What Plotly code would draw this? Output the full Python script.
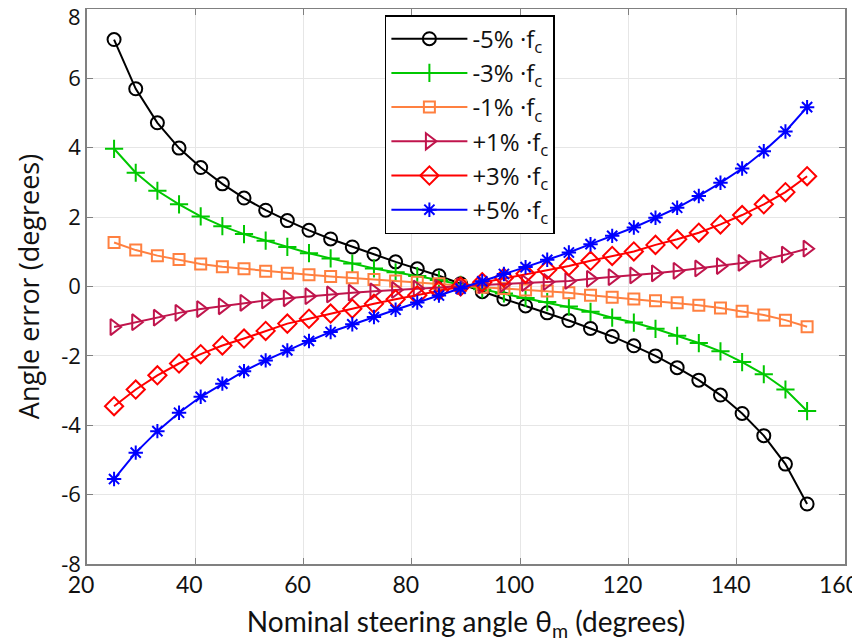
import plotly.graph_objects as go

# steering angle samples (degrees)
theta_m = [25, 29, 33, 37, 41, 45, 49, 53, 57, 61, 65, 69, 73,
           77, 81, 85, 89, 93, 97, 101, 105,
           109, 113, 117, 121, 125, 129, 133, 137, 141, 145, 149, 153]

# angle error (degrees) per frequency offset
err_m5 = [7.12, 5.70, 4.72, 3.99, 3.43, 2.96, 2.55, 2.20, 1.90, 1.62, 1.37, 1.14, 0.93,
          0.71, 0.51, 0.31, 0.08, -0.15, -0.36, -0.56, -0.76,
          -0.98, -1.21, -1.44, -1.71, -2.00, -2.34, -2.70, -3.13, -3.66, -4.30, -5.12, -6.27]
err_m3 = [3.97, 3.28, 2.76, 2.37, 2.02, 1.74, 1.51, 1.32, 1.14, 0.96, 0.81, 0.66, 0.52,
          0.41, 0.30, 0.19, 0.05, -0.08, -0.20, -0.33, -0.45,
          -0.58, -0.73, -0.90, -1.04, -1.22, -1.42, -1.63, -1.87, -2.18, -2.53, -2.97, -3.59]
err_m1 = [1.27, 1.05, 0.89, 0.78, 0.65, 0.57, 0.51, 0.44, 0.38, 0.34, 0.29, 0.25, 0.20,
          0.16, 0.12, 0.08, 0.03, -0.02, -0.06, -0.10, -0.13,
          -0.18, -0.25, -0.31, -0.36, -0.41, -0.47, -0.54, -0.62, -0.71, -0.82, -0.97, -1.16]
err_p1 = [-1.17, -1.03, -0.90, -0.76, -0.65, -0.57, -0.47, -0.40, -0.34, -0.28, -0.23, -0.18, -0.14,
          -0.10, -0.06, -0.03, 0.01, 0.04, 0.07, 0.10, 0.13,
          0.16, 0.22, 0.27, 0.32, 0.38, 0.45, 0.52, 0.59, 0.68, 0.78, 0.92, 1.09]
err_p3 = [-3.45, -2.97, -2.56, -2.22, -1.95, -1.70, -1.50, -1.28, -1.07, -0.93, -0.78, -0.64, -0.50,
          -0.37, -0.25, -0.12, 0.00, 0.12, 0.25, 0.37, 0.48,
          0.59, 0.74, 0.88, 1.01, 1.20, 1.36, 1.55, 1.79, 2.06, 2.37, 2.72, 3.18]
err_p5 = [-5.55, -4.79, -4.17, -3.64, -3.18, -2.80, -2.44, -2.13, -1.84, -1.57, -1.31, -1.09, -0.88,
          -0.67, -0.46, -0.26, -0.06, 0.15, 0.36, 0.56, 0.77,
          0.98, 1.22, 1.46, 1.70, 1.98, 2.27, 2.61, 2.99, 3.40, 3.90, 4.47, 5.17]

labels = ["-5% ·f<sub>c</sub>", "-3% ·f<sub>c</sub>", "-1% ·f<sub>c</sub>",
          "+1% ·f<sub>c</sub>", "+3% ·f<sub>c</sub>", "+5% ·f<sub>c</sub>"]
x_ticks = [20, 40, 60, 80, 100, 120, 140, 160]
y_ticks = [-8, -6, -4, -2, 0, 2, 4, 6, 8]

series = [err_m5, err_m3, err_m1, err_p1, err_p3, err_p5]
colors = ["#000000", "#00c800", "#ff8040", "#c0144c", "#ff0000", "#0000ff"]
symbols = ["circle-open", "cross-thin-open", "square-open",
           "triangle-right-open", "diamond-open", "asterisk-open"]
sizes = [13, 13, 11, 14, 14, 12]

fig = go.Figure()
for y, name, c, s, sz in zip(series, labels, colors, symbols, sizes):
    fig.add_trace(go.Scatter(
        x=theta_m, y=y, name=name, mode="lines+markers",
        line=dict(color=c, width=2),
        marker=dict(symbol=s, size=sz, color=c, line=dict(color=c, width=2)),
    ))

axis_common = dict(
    showline=True, linecolor="#808080", linewidth=1.5, mirror="allticks",
    ticks="inside", ticklen=6, tickcolor="#808080",
    showgrid=True, gridcolor="#e6e6e6", gridwidth=1, zeroline=False,
    automargin=False, ticklabeloverflow="allow",
)

# top y label would sit on the page edge, so it is drawn a little lower
y_text = ["" if v == y_ticks[-1] else str(v) for v in y_ticks]
fig.add_annotation(x=0, xref="paper", y=y_ticks[-1], yref="y",
                   text=str(y_ticks[-1]), showarrow=False,
                   xanchor="right", yanchor="middle", xshift=-4, yshift=-7,
                   font=dict(family="Open Sans", size=22, color="#111"))

# the page body adds 8px, so margins are set in figure coordinates
fig.update_layout(
    width=860, height=644,
    margin=dict(l=79, r=23, t=1, b=88),
    paper_bgcolor="white", plot_bgcolor="white",
    xaxis=dict(range=[20, 160], tickvals=x_ticks,
               ticktext=[str(v) for v in x_ticks], ticklabelshift=-6,
               title=dict(text="Nominal steering angle θ<sub>m</sub> (degrees)",
                          font=dict(family="Lato", size=28, color="#111")),
               tickfont=dict(family="Lato", size=23, color="#111"),
               **axis_common),
    yaxis=dict(range=[-8, 8], tickvals=y_ticks, ticktext=y_text,
               title=dict(text="Angle error (degrees)", standoff=14,
                          font=dict(family="Open Sans", size=27, color="#111")),
               tickfont=dict(family="Open Sans", size=22, color="#111"), **axis_common),
    legend=dict(x=0.393, y=0.989, xanchor="left", yanchor="top",
                bgcolor="white", bordercolor="black", borderwidth=1.5,
                itemwidth=76,
                font=dict(family="Open Sans", size=24, color="#111")),
    showlegend=True,
)

fig.write_html("out.html")
